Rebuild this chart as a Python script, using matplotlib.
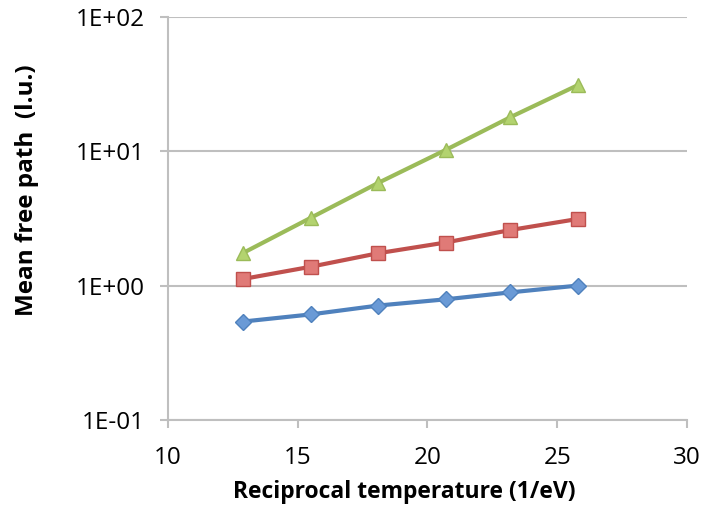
import matplotlib
matplotlib.use('Agg')
import matplotlib.pyplot as plt
from matplotlib.ticker import FixedLocator, FixedFormatter, NullLocator

# reciprocal temperature (1/eV)
recip_temp = [12.9, 15.5, 18.1, 20.7, 23.2, 25.8]
# mean free path (l.u.) for the three series
mfp_blue = [0.54, 0.61, 0.71, 0.79, 0.89, 1.0]
mfp_red = [1.12, 1.38, 1.74, 2.09, 2.59, 3.13]
mfp_green = [1.75, 3.19, 5.8, 10.2, 17.9, 31.0]

x_ticks = [10, 15, 20, 25, 30]
y_ticks = [0.1, 1, 10, 100]
y_tick_labels = ["1E-01", "1E+00", "1E+01", "1E+02"]

plt.rcParams['font.family'] = ['Open Sans', 'DejaVu Sans']

fig = plt.figure(figsize=(7.03, 5.15), dpi=100)
ax = fig.add_axes([0.239, 0.1845, 0.738, 0.783])

ax.plot(recip_temp, mfp_blue, color="#4F81BD", lw=3, marker="D", markersize=8,
        markerfacecolor="#6a9ad6", markeredgecolor="#4F81BD", zorder=3)
ax.plot(recip_temp, mfp_red, color="#C0504D", lw=3, marker="s", markersize=10,
        markerfacecolor="#e07a77", markeredgecolor="#C0504D", zorder=3)
ax.plot(recip_temp, mfp_green, color="#9BBB59", lw=3, marker="^", markersize=10,
        markerfacecolor="#b3d36f", markeredgecolor="#9BBB59", zorder=3)

ax.set_yscale("log")
ax.set_xlim(10, 30)
ax.set_ylim(0.1, 100)
ax.xaxis.set_major_locator(FixedLocator(x_ticks))
ax.yaxis.set_major_locator(FixedLocator(y_ticks))
ax.yaxis.set_major_formatter(FixedFormatter(y_tick_labels))
ax.yaxis.set_minor_locator(NullLocator())

grid_col = "#bfbfbf"
ax.grid(axis="y", color=grid_col, lw=1.5)
ax.set_axisbelow(True)
for s in ["top", "right"]:
    ax.spines[s].set_visible(False)
ax.spines["left"].set_color(grid_col)
ax.spines["bottom"].set_color(grid_col)
ax.spines["left"].set_linewidth(1.5)
ax.spines["bottom"].set_linewidth(1.5)
ax.tick_params(axis="both", colors=grid_col, width=1.5, length=5.5, labelsize=17.5,
               labelcolor="black")
ax.tick_params(axis="x", pad=13)
ax.tick_params(axis="y", pad=11)

ax.set_xlabel("Reciprocal temperature (1/eV)", fontsize=16.5, fontweight="bold")
ax.set_ylabel("Mean free path  (l.u.)", fontsize=17.5, fontweight="bold")
ax.xaxis.set_label_coords(0.455, -0.148)
ax.yaxis.set_label_coords(-0.248, 0.57)

fig.savefig("out.png", dpi=100)
